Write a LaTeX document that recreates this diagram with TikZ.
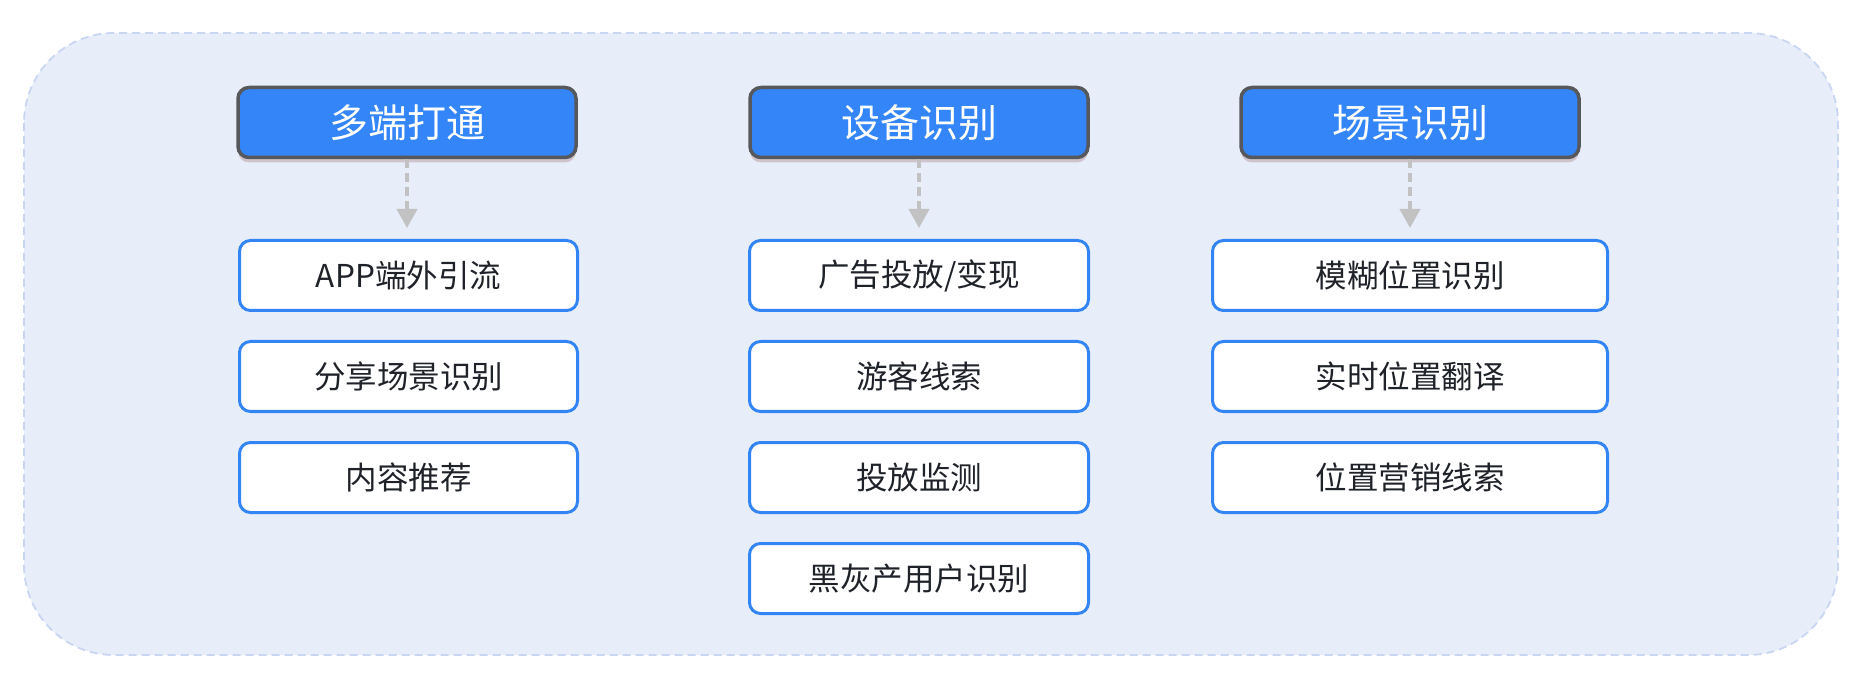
\documentclass[tikz,border=0pt]{standalone}
\usepackage{fontspec}
\setmainfont{Noto Sans CJK SC}
\usetikzlibrary{arrows.meta,shadows}
\definecolor{hdrfill}{HTML}{3385F8}
\definecolor{hdredge}{HTML}{56585C}
\definecolor{subedge}{HTML}{3385F5}
\definecolor{txtdark}{HTML}{1F2329}
\definecolor{bgfill}{HTML}{E7EEFA}
\definecolor{bgedge}{HTML}{C9D6F2}
\definecolor{arrowgray}{HTML}{C2C2C2}
\tikzset{
  hdr/.style={draw=hdredge, line width=3.5pt, fill=hdrfill, rounded corners=11pt,
    minimum width=338pt, minimum height=70pt, inner sep=0pt, text=white,
    font=\fontsize{39pt}{40pt}\selectfont,
    drop shadow={shadow xshift=0pt, shadow yshift=-5pt, opacity=0.18, fill=black!60!red}},
  subbox/.style={draw=subedge, line width=3pt, fill=white, rounded corners=11pt,
    minimum height=70pt, inner sep=0pt, text=txtdark,
    font=\fontsize{31.5pt}{33pt}\selectfont},
  conn/.style={draw=arrowgray, line width=4pt, dash pattern=on 9pt off 5pt,
    -{Triangle[length=19pt,width=20pt]}, shorten >=11pt}
}
\begin{document}
\begin{tikzpicture}[x=1pt,y=-1pt]
\useasboundingbox (0,0) rectangle (1866,700);
\fill[white] (0,0) rectangle (1866,700);
\draw[draw=bgedge, fill=bgfill, line width=1.8pt, dash pattern=on 8pt off 5pt, rounded corners=90pt] (24,33) rectangle (1838,655);

\node[hdr] (h1) at (407,122.5) {多端打通};
\node[hdr] (h2) at (919,122.5) {设备识别};
\node[hdr] (h3) at (1410,122.5) {场景识别};

\node[subbox, minimum width=338pt] (a1) at (408.5,275.5) {APP端外引流};
\node[subbox, minimum width=338pt] (a2) at (408.5,376.5) {分享场景识别};
\node[subbox, minimum width=338pt] (a3) at (408.5,477.5) {内容推荐};

\node[subbox, minimum width=339pt] (b1) at (919,275.5) {广告投放/变现};
\node[subbox, minimum width=339pt] (b2) at (919,376.5) {游客线索};
\node[subbox, minimum width=339pt] (b3) at (919,477.5) {投放监测};
\node[subbox, minimum width=339pt] (b4) at (919,578.5) {黑灰产用户识别};

\node[subbox, minimum width=395pt] (c1) at (1410,275.5) {模糊位置识别};
\node[subbox, minimum width=395pt] (c2) at (1410,376.5) {实时位置翻译};
\node[subbox, minimum width=395pt] (c3) at (1410,477.5) {位置营销线索};

\draw[conn] (h1.south) -- (h1.south |- a1.north);
\draw[conn] (h2.south) -- (h2.south |- b1.north);
\draw[conn] (h3.south) -- (h3.south |- c1.north);
\end{tikzpicture}
\end{document}
